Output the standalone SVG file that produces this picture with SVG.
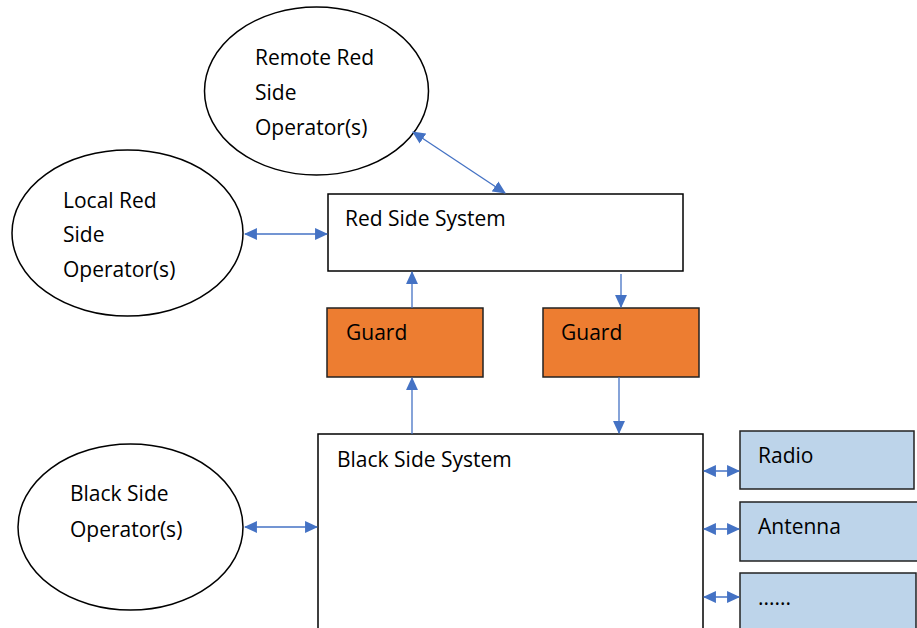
<svg xmlns="http://www.w3.org/2000/svg" width="917" height="628" viewBox="0 0 917 628">
  <style>
    .op { fill: #fff; stroke: #000; stroke-width: 1.5; }
    .sys { fill: #fff; stroke: #000; stroke-width: 1.5; }
    .guard { fill: #ED7D31; stroke: #222; stroke-width: 1.5; }
    .ext { fill: #BDD4EA; stroke: #222; stroke-width: 1.5; }
    .lbl { font-family: "Open Sans", "Liberation Sans", sans-serif; font-size: 21px; fill: #000; }
    .link { stroke: #4472C4; stroke-width: 1.3; fill: none; }
  </style>
  <defs>
    <marker id="arr" markerUnits="userSpaceOnUse" markerWidth="13" markerHeight="13" viewBox="0 0 12 12" refX="11" refY="6" orient="auto-start-reverse">
      <path d="M0,0.5 L12,6 L0,11.5 Z" fill="#4472C4"/>
    </marker>
  </defs>

  <rect width="917" height="628" fill="#fff"/>

  <g id="remote-red-operators">
    <ellipse class="op" cx="316.5" cy="91" rx="112" ry="84"/>
    <text class="lbl" x="255" y="65">Remote Red</text>
    <text class="lbl" x="255" y="100">Side</text>
    <text class="lbl" x="255" y="135">Operator(s)</text>
  </g>

  <g id="local-red-operators">
    <ellipse class="op" cx="127.5" cy="233" rx="115.5" ry="83"/>
    <text class="lbl" x="63" y="208">Local Red</text>
    <text class="lbl" x="63" y="242">Side</text>
    <text class="lbl" x="63" y="277">Operator(s)</text>
  </g>

  <g id="black-operators">
    <ellipse class="op" cx="130.5" cy="527" rx="112.5" ry="83"/>
    <text class="lbl" x="70" y="501">Black Side</text>
    <text class="lbl" x="70" y="537">Operator(s)</text>
  </g>

  <g id="red-side-system">
    <rect class="sys" x="328" y="194" width="355" height="77"/>
    <text class="lbl" x="345" y="226">Red Side System</text>
  </g>

  <g id="guard-up">
    <rect class="guard" x="327" y="308" width="156" height="69"/>
    <text class="lbl" x="346" y="340">Guard</text>
  </g>

  <g id="guard-down">
    <rect class="guard" x="543" y="308" width="156" height="69"/>
    <text class="lbl" x="561" y="340">Guard</text>
  </g>

  <g id="black-side-system">
    <rect class="sys" x="318" y="434" width="385" height="200"/>
    <text class="lbl" x="337" y="467">Black Side System</text>
  </g>

  <g id="radio">
    <rect class="ext" x="740" y="431" width="174" height="58"/>
    <text class="lbl" x="758" y="463">Radio</text>
  </g>

  <g id="antenna">
    <rect class="ext" x="740" y="502" width="180" height="59"/>
    <text class="lbl" x="758" y="534">Antenna</text>
  </g>

  <g id="more">
    <rect class="ext" x="740" y="573" width="176" height="60"/>
    <text class="lbl" x="758" y="605">......</text>
  </g>

  <g id="connectors">
    <line class="link" x1="413" y1="132" x2="505" y2="193" marker-start="url(#arr)" marker-end="url(#arr)"/>
    <line class="link" x1="245" y1="234" x2="327" y2="234" marker-start="url(#arr)" marker-end="url(#arr)"/>
    <line class="link" x1="412" y1="308" x2="412" y2="272" marker-end="url(#arr)"/>
    <line class="link" x1="412" y1="434" x2="412" y2="378" marker-end="url(#arr)"/>
    <line class="link" x1="621" y1="274" x2="621" y2="307" marker-end="url(#arr)"/>
    <line class="link" x1="619" y1="377" x2="619" y2="433" marker-end="url(#arr)"/>
    <line class="link" x1="245" y1="527" x2="317" y2="527" marker-start="url(#arr)" marker-end="url(#arr)"/>
    <line class="link" x1="704" y1="471" x2="739" y2="471" marker-start="url(#arr)" marker-end="url(#arr)"/>
    <line class="link" x1="704" y1="529" x2="739" y2="529" marker-start="url(#arr)" marker-end="url(#arr)"/>
    <line class="link" x1="704" y1="597" x2="739" y2="597" marker-start="url(#arr)" marker-end="url(#arr)"/>
  </g>
</svg>
